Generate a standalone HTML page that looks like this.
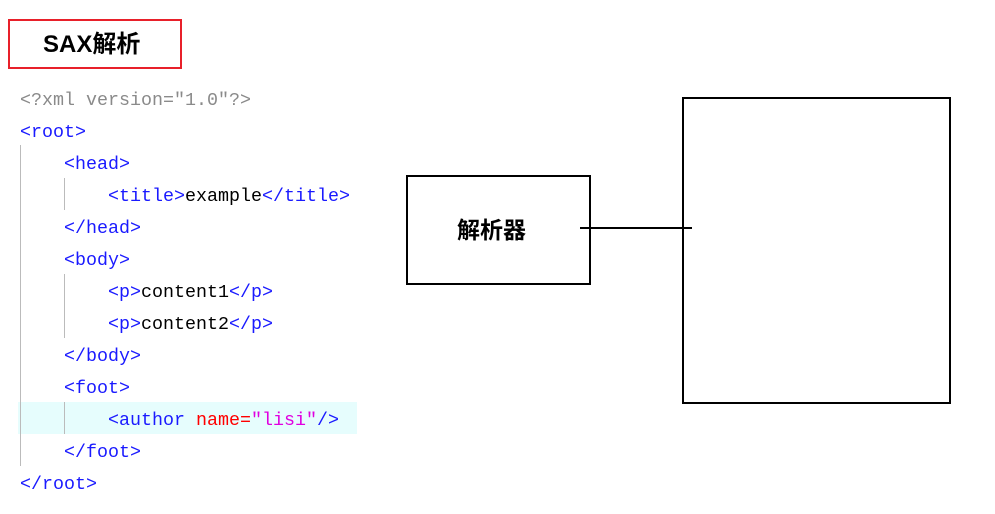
<!DOCTYPE html>
<html><head><meta charset="utf-8"><style>
body{margin:0;width:995px;height:514px;background:#fff;position:relative;overflow:hidden}
.a{position:absolute}
.code{font-family:"Liberation Mono",monospace;font-size:18.33px;line-height:32px;white-space:pre;height:32px}
.t{color:#1a1aff}.g{color:#8a8a8a}.k{color:#000}.r{color:#f00}.m{color:#e000e0}
</style></head><body>
<div class="a" style="left:8px;top:19px;width:170px;height:46px;border:2px solid #e8202a"></div>
<div class="a" style="left:43px;top:29px;font:bold 24px 'Liberation Sans','Noto Sans CJK SC',sans-serif;line-height:32px">SAX解析</div>
<div class="a" style="left:18px;top:402px;width:339px;height:32px;background:#e6fdfd"></div>
<div class="a" style="left:20px;top:145px;width:1px;height:321px;background:#bbb"></div>
<div class="a" style="left:64px;top:178px;width:1px;height:32px;background:#bbb"></div>
<div class="a" style="left:64px;top:274px;width:1px;height:64px;background:#bbb"></div>
<div class="a" style="left:64px;top:402px;width:1px;height:32px;background:#bbb"></div>
<div class="a code" style="left:20px;top:85px"><span class="g">&lt;?xml version="1.0"?&gt;</span></div>
<div class="a code" style="left:20px;top:117px"><span class="t">&lt;root&gt;</span></div>
<div class="a code" style="left:64px;top:149px"><span class="t">&lt;head&gt;</span></div>
<div class="a code" style="left:108px;top:181px"><span class="t">&lt;title&gt;</span><span class="k">example</span><span class="t">&lt;/title&gt;</span></div>
<div class="a code" style="left:64px;top:213px"><span class="t">&lt;/head&gt;</span></div>
<div class="a code" style="left:64px;top:245px"><span class="t">&lt;body&gt;</span></div>
<div class="a code" style="left:108px;top:277px"><span class="t">&lt;p&gt;</span><span class="k">content1</span><span class="t">&lt;/p&gt;</span></div>
<div class="a code" style="left:108px;top:309px"><span class="t">&lt;p&gt;</span><span class="k">content2</span><span class="t">&lt;/p&gt;</span></div>
<div class="a code" style="left:64px;top:341px"><span class="t">&lt;/body&gt;</span></div>
<div class="a code" style="left:64px;top:373px"><span class="t">&lt;foot&gt;</span></div>
<div class="a code" style="left:108px;top:405px"><span class="t">&lt;author </span><span class="r">name=</span><span class="m">"lisi"</span><span class="t">/&gt;</span></div>
<div class="a code" style="left:64px;top:437px"><span class="t">&lt;/foot&gt;</span></div>
<div class="a code" style="left:20px;top:469px"><span class="t">&lt;/root&gt;</span></div>
<div class="a" style="left:406px;top:175px;width:181px;height:106px;border:2px solid #000"></div>
<div class="a" style="left:457px;top:215px;font:bold 23px 'Liberation Sans','Noto Sans CJK SC',sans-serif;line-height:30px">解析器</div>
<div class="a" style="left:682px;top:97px;width:265px;height:303px;border:2px solid #000"></div>
<div class="a" style="left:580px;top:227px;width:112px;height:2px;background:#000"></div>
</body></html>
